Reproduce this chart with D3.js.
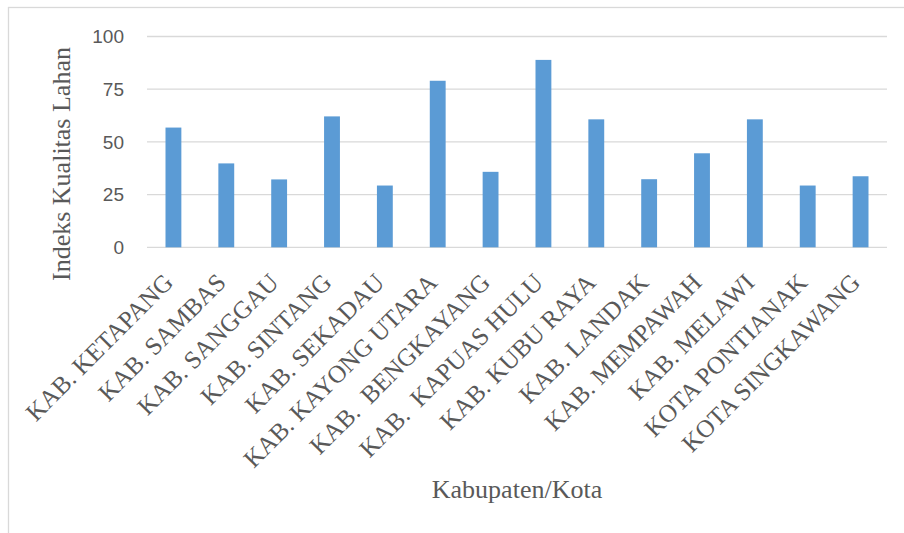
<!DOCTYPE html>
<meta charset="utf-8">
<style>
body { margin: 0; background: #fff; }
.grid line { stroke: #d9d9d9; stroke-width: 1.3; }
.ytick { font-family: "Liberation Sans", Arial, sans-serif; font-size: 19px; fill: #595959; }
.xlab { font-family: "Liberation Serif", "Times New Roman", serif; font-size: 25px; fill: #595959; white-space: pre; }
.title { font-family: "Liberation Serif", "Times New Roman", serif; font-size: 26px; fill: #595959; }
</style>
<svg width="904" height="533"></svg>
<script src="https://d3js.org/d3.v7.min.js"></script>
<script>

// data
var categories = ["KAB. KETAPANG", "KAB. SAMBAS", "KAB. SANGGAU", "KAB. SINTANG", "KAB. SEKADAU",
  "KAB. KAYONG UTARA", "KAB.  BENGKAYANG", "KAB.  KAPUAS HULU", "KAB. KUBU RAYA", "KAB. LANDAK",
  "KAB. MEMPAWAH", "KAB. MELAWI", "KOTA PONTIANAK", "KOTA SINGKAWANG"];
var values = [56.8, 39.8, 32.2, 62.1, 29.3, 79.0, 35.8, 88.9, 60.7, 32.3, 44.6, 60.7, 29.3, 33.7];
var yTicks = [0, 25, 50, 75, 100];

var svg = d3.select("svg");

// chart frame
svg.append("rect")
    .attr("x", 8.5).attr("y", 7.5)
    .attr("width", 1000).attr("height", 1000)
    .attr("fill", "none")
    .attr("stroke", "#d9d9d9")
    .attr("stroke-width", 1.3);

var x = d3.scaleBand()
    .domain(categories)
    .range([147, 887])
    .paddingInner(0.7)
    .paddingOuter(0.35);

var y = d3.scaleLinear()
    .domain([0, 100])
    .range([247.3, 36.5]);

// gridlines
svg.append("g").attr("class", "grid")
  .selectAll("line")
  .data(yTicks)
  .enter().append("line")
    .attr("x1", 147).attr("x2", 887)
    .attr("y1", d => y(d)).attr("y2", d => y(d));

// y tick labels
svg.append("g")
  .selectAll("text")
  .data(yTicks)
  .enter().append("text")
    .attr("class", "ytick")
    .attr("x", 124)
    .attr("y", d => y(d))
    .attr("dy", "0.36em")
    .attr("text-anchor", "end")
    .text(d => d);

// bars
svg.append("g")
  .selectAll("rect")
  .data(values)
  .enter().append("rect")
    .attr("x", (d, i) => x(categories[i]))
    .attr("width", x.bandwidth())
    .attr("y", d => y(d))
    .attr("height", d => y(0) - y(d))
    .attr("fill", "#5b9bd5");

// category labels
svg.append("g")
  .selectAll("text")
  .data(categories)
  .enter().append("text")
    .attr("class", "xlab")
    .attr("text-anchor", "end")
    .attr("transform", d => "translate(" + (x(d) + x.bandwidth() / 2 + 1) + ",284) rotate(-45)")
    .text(d => d);

// axis titles
svg.append("text")
    .attr("class", "title")
    .attr("text-anchor", "middle")
    .attr("transform", "translate(70,164) rotate(-90)")
    .text("Indeks Kualitas Lahan");

svg.append("text")
    .attr("class", "title")
    .attr("text-anchor", "middle")
    .attr("x", 517)
    .attr("y", 498)
    .text("Kabupaten/Kota");

</script>
